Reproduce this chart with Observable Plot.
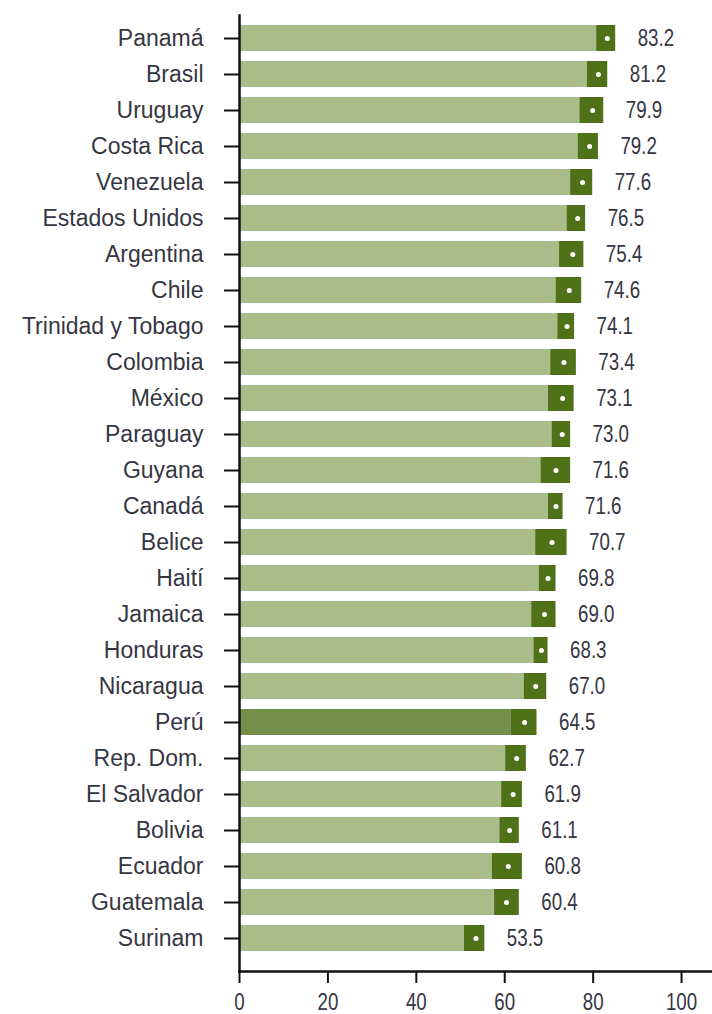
<!DOCTYPE html>
<html>
<head>
<meta charset="utf-8">
<script src="https://cdn.jsdelivr.net/npm/d3@7"></script>
<script src="https://cdn.jsdelivr.net/npm/@observablehq/plot@0.6"></script>
<style>
  html, body { margin: 0; padding: 0; background: #fff; overflow: hidden; }
  #chart svg { display: block; }
</style>
</head>
<body>
<div id="chart"></div>
<script>
const countries = ["Panamá","Brasil","Uruguay","Costa Rica","Venezuela","Estados Unidos","Argentina","Chile","Trinidad y Tobago","Colombia","México","Paraguay","Guyana","Canadá","Belice","Haití","Jamaica","Honduras","Nicaragua","Perú","Rep. Dom.","El Salvador","Bolivia","Ecuador","Guatemala","Surinam"];
const values = [83.2,81.2,79.9,79.2,77.6,76.5,75.4,74.6,74.1,73.4,73.1,73.0,71.6,71.6,70.7,69.8,69.0,68.3,67.0,64.5,62.7,61.9,61.1,60.8,60.4,53.5];
const lower = [80.8,78.7,77.0,76.6,74.9,74.1,72.4,71.6,72.0,70.4,69.9,70.7,68.2,69.9,67.0,67.8,66.1,66.6,64.4,61.5,60.2,59.3,58.9,57.2,57.7,50.9];
const upper = [85.1,83.3,82.4,81.2,79.9,78.3,77.9,77.4,75.8,76.2,75.7,74.9,74.9,73.2,74.1,71.6,71.6,69.8,69.5,67.3,64.9,64.0,63.3,64.0,63.3,55.5];
const highlight = "Perú";
const xTicks = [0,20,40,60,80,100];

const data = countries.map((c, i) => ({country: c, value: values[i], lo: lower[i], hi: upper[i]}));

const txt = "#363642";

const chart = Plot.plot({
  width: 712,
  height: 1014,
  marginLeft: 239,
  marginRight: 0,
  marginTop: 15,
  marginBottom: 43,
  style: {fontFamily: "'Liberation Sans', Arial, sans-serif", fontSize: "23px", color: txt, background: "#fff"},
  x: {domain: [0, 107]},
  y: {domain: countries, padding: 0.281, paddingOuter: 0.36, align: 0.32},
  marks: [
    Plot.barX(data, {y: "country", x1: 0, x2: "lo", fill: d => d.country === highlight ? "#74904a" : "#aabc89"}),
    Plot.barX(data, {y: "country", x1: "lo", x2: "hi", fill: "#4f7118"}),
    Plot.dot(data, {y: "country", x: "value", r: 2.5, fill: "#fff", stroke: null}),
    Plot.text(data, {y: "country", x: "hi", text: d => d.value.toFixed(1), textAnchor: "start", dx: 22, fontSize: 24, fill: txt}),
    Plot.axisY({tickSize: 15, tickPadding: 21, stroke: "#111", strokeWidth: 2, fontSize: 23, fill: txt, label: null}),
    Plot.axisX({ticks: xTicks, tickSize: 12, tickPadding: 9, stroke: "#111", strokeWidth: 2, fontSize: 24, fill: txt, label: null}),
    Plot.frame({anchor: "left", stroke: "#111", strokeWidth: 2.5}),
    Plot.frame({anchor: "bottom", stroke: "#111", strokeWidth: 2.5})
  ]
});
document.getElementById("chart").appendChild(chart);

// condense numeric labels (value labels and x tick labels) horizontally
const condense = 0.78;
d3.select(chart).selectAll('g[aria-label="text"] text, g[aria-label="x-axis tick label"] text').each(function() {
  const w = this.getComputedTextLength();
  if (w > 0) {
    this.setAttribute("textLength", (w * condense).toFixed(2));
    this.setAttribute("lengthAdjust", "spacingAndGlyphs");
  }
});
</script>
</body>
</html>
